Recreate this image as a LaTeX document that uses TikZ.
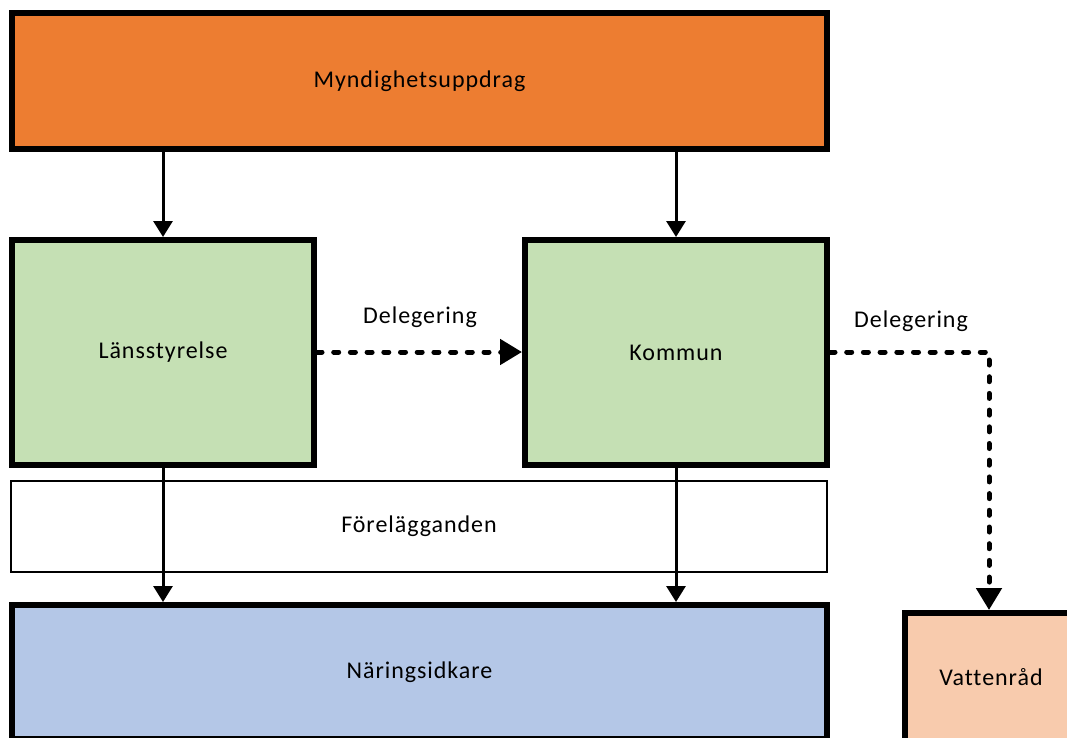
\documentclass[tikz,border=0pt]{standalone}
\usepackage{fontspec}
\setmainfont{Carlito}[LetterSpace=4, Ligatures={NoCommon}]
\usetikzlibrary{arrows.meta}
\definecolor{mynorange}{HTML}{ED7D31}
\definecolor{lsgreen}{HTML}{C5E0B4}
\definecolor{nblue}{HTML}{B4C7E7}
\definecolor{vpeach}{HTML}{F8CBAD}
\tikzset{
  heavybox/.style={draw=black, line width=6pt, rectangle, inner sep=0pt},
  thinbox/.style={draw=black, line width=2.5pt, rectangle, inner sep=0pt, fill=white},
  flow/.style={draw=black, line width=3pt, -{Triangle[length=16pt,width=19pt]}},
  deleg/.style={draw=black, line width=5pt, line cap=round, dash pattern=on 5pt off 11.7pt,
                -{Triangle[length=22pt,width=25pt]}},
  lbl/.style={font=\fontsize{24pt}{28pt}\selectfont, text=black}
}
\begin{document}
\begin{tikzpicture}[x=1pt,y=-1pt]
  \useasboundingbox (0,0) rectangle (1067,737);
  \clip (0,0) rectangle (1067,737);
  \fill[white] (0,0) rectangle (1067,737);

  % boxes
  \node[heavybox, fill=mynorange, minimum width=815pt, minimum height=136pt, lbl]
    (myn) at (419.5,81) {Myndighetsuppdrag};
  \node[heavybox, fill=lsgreen, minimum width=302pt, minimum height=225pt, lbl]
    (lans) at (163,352.5) {Länsstyrelse};
  \node[heavybox, fill=lsgreen, minimum width=302pt, minimum height=225pt, lbl]
    (kom) at (676,352.5) {Kommun};
  \node[thinbox, minimum width=816pt, minimum height=91pt, lbl]
    (fore) at (419,526.5) {Förelägganden};
  \node[heavybox, fill=nblue, minimum width=815pt, minimum height=134pt, lbl]
    (nar) at (419.5,672) {Näringsidkare};
  \node[heavybox, fill=vpeach, minimum width=178pt, minimum height=134pt, anchor=north west]
    (vat) at (902,610) {};
  \node[lbl] (vattxt) at (991,677) {Vattenråd};

  % labels on the delegation arrows
  \node[lbl] (d1) at (420,317) {Delegering};
  \node[lbl] (d2) at (911,321) {Delegering};

  % solid flows
  \draw[flow] (myn.south -| lans) -- (lans.north);
  \draw[flow] (myn.south -| kom) -- (kom.north);
  \draw[flow] (lans.south) -- (nar.north -| lans);
  \draw[flow] (kom.south) -- (nar.north -| kom);

  % delegation
  \coordinate (bend) at (989,352);
  \draw[deleg] (lans.east |- bend) -- (kom.west |- bend);
  \draw[deleg] (kom.east |- bend) -- (bend) -- (vat.north -| bend);
\end{tikzpicture}
\end{document}
